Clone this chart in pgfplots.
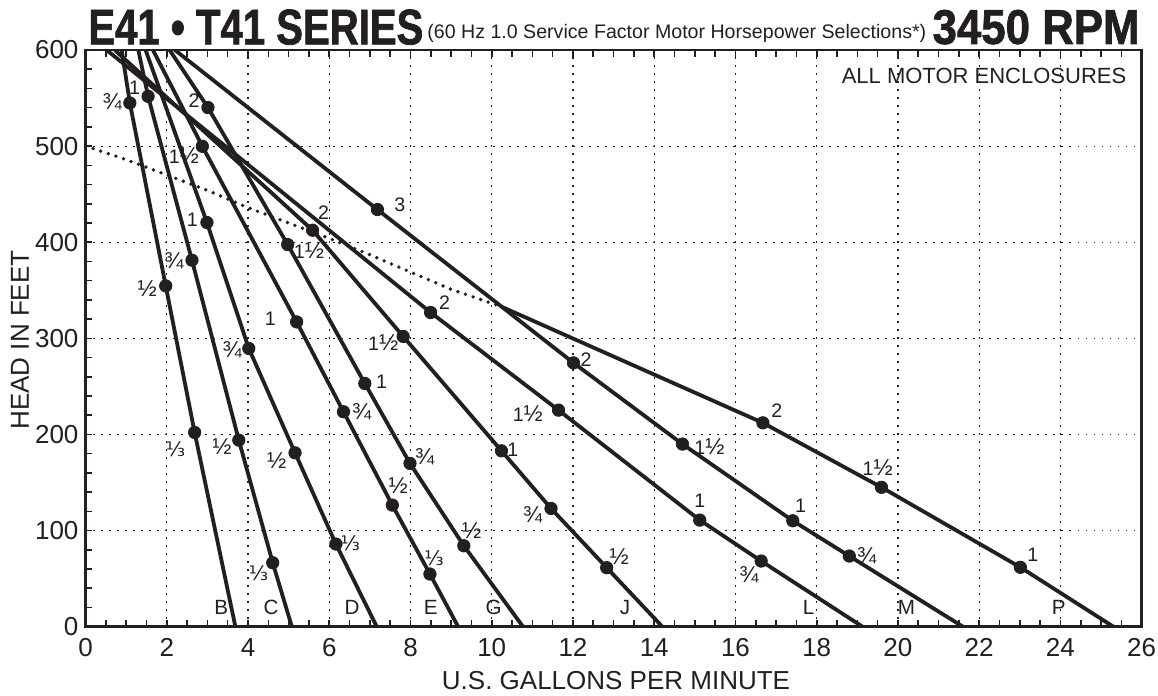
\documentclass[border=0pt]{standalone}
\usepackage{fontspec}
\setmainfont{Liberation Sans}
\newfontfamily\dejavu{DejaVu Sans}
\newfontfamily\heavy[FakeBold=1.6]{Liberation Sans Bold}
\usepackage{graphicx}
\usepackage{pgfplots}
\pgfplotsset{compat=1.18}
\definecolor{ink}{HTML}{231F20}
\newcommand\lb{\fontsize{9.8}{10}\selectfont}
\newcommand\lt{\fontsize{10.3}{11}\selectfont}
\newcommand\hf{{\fontsize{11.5}{11}\selectfont ½}}
\newcommand\tq{{\fontsize{11.5}{11}\selectfont ¾}}
\newcommand\thd{{\dejavu\fontsize{10}{10}\selectfont ⅓}}
\begin{document}
\begin{tikzpicture}
\path[use as bounding box] (-42.75pt,-34.65pt) rectangle (536.25pt,313.35pt);
\begin{axis}[
  width=528.1pt, height=288.35pt, scale only axis,
  xmin=0, xmax=26, ymin=0, ymax=600,
  xtick={0,2,...,26}, ytick={0,100,...,600},
  minor x tick num=3, minor y tick num=4,
  tick align=inside, xtick pos=both, ytick pos=left,
  xticklabel pos=lower,
  major tick length=3.3pt, minor tick length=3.3pt,
  tick style={ink, line width=0.8pt},
  grid=major,
  major grid style={ink, line width=0.6pt, dash pattern=on 0.6pt off 3.4pt},
  axis line style={ink, line width=1.35pt},
  ticklabel style={font=\fontsize{13}{15}\selectfont, text=ink},
  /pgf/number format/assume math mode=true,
  xticklabel style={yshift=-2.5pt},
  curve/.style={ink, line width=1.9pt, line join=round},
  dots/.style={only marks, mark=*, mark size=3.1pt, mark options={fill=ink, draw=ink}},
]
% B
\addplot[curve] coordinates {(0.89,600)(1.092,544.9)(1.975,354.6)(2.687,202.1)(3.69,0)};
% C
\addplot[curve] coordinates {(1.30,600)(1.541,551.8)(2.621,381.3)(3.774,194.1)(4.609,66.5)(5.08,0)};
% D
\addplot[curve] coordinates {(1.48,600)(2.989,420.5)(4.02,289.5)(5.158,180.9)(6.164,86)(7.17,0)};
% E
\addplot[curve] coordinates {(1.66,600)(2.876,499.8)(5.198,317.1)(6.351,223.6)(7.553,126.5)(8.479,54.8)(9.173,0)};
% G
\addplot[curve] coordinates {(2.07,600)(3.014,540.1)(4.977,397.6)(6.876,253.1)(7.988,169.9)(9.313,84.2)(10.77,0)};
% J
\addplot[curve] coordinates {(0.72,600)(5.59,412.5)(7.82,302)(10.24,183)(11.46,123)(12.83,61.4)(14.2,0)};
% L
\addplot[curve] coordinates {(0.52,600)(8.496,326.9)(11.644,225.3)(15.121,110.9)(16.633,68.3)(19.129,0)};
% M
\addplot[curve] coordinates {(2.2,600)(7.186,434.0)(12.012,274.5)(14.695,190)(17.411,110.2)(18.802,73.5)(21.6,0)};
% P solid
\addplot[curve] coordinates {(10.25,332.7)(16.675,212.1)(19.595,145)(23.013,61.8)(25.305,0)};
% P dotted
\addplot[ink, line width=1.9pt, line cap=round, dash pattern=on 0pt off 4pt] coordinates {(0,500)(1,486)(2,470)(3,454)(4,436)(5,420)(6,404)(7,387)(8,369)(9,351)(10.1,335)};
% dots
\addplot[dots] coordinates {(1.092,544.9)(1.975,354.6)(2.687,202.1)};
\addplot[dots] coordinates {(1.541,551.8)(2.621,381.3)(3.774,194.1)(4.609,66.5)};
\addplot[dots] coordinates {(2.989,420.5)(4.02,289.5)(5.158,180.9)(6.164,86)};
\addplot[dots] coordinates {(2.876,499.8)(5.198,317.1)(6.351,223.6)(7.553,126.5)(8.479,54.8)};
\addplot[dots] coordinates {(3.014,540.1)(4.977,397.6)(6.876,253.1)(7.988,169.9)(9.313,84.2)};
\addplot[dots] coordinates {(5.59,412.5)(7.82,302)(10.24,183)(11.46,123)(12.83,61.4)};
\addplot[dots] coordinates {(8.496,326.9)(11.644,225.3)(15.121,110.9)(16.633,68.3)};
\addplot[dots] coordinates {(7.186,434.0)(12.012,274.5)(14.695,190)(17.411,110.2)(18.802,73.5)};
\addplot[dots] coordinates {(16.675,212.1)(19.595,145)(23.013,61.8)};
% labels
\begin{scope}[every node/.style={text=ink, inner sep=0pt, font=\lb}]
\node at (axis cs:0.66,545.9) {\tq};
\node at (axis cs:1.52,351.9) {\hf};
\node at (axis cs:2.22,184.5) {\thd};
\node at (axis cs:1.21,561) {1};
\node at (axis cs:2.18,380.3) {\tq};
\node at (axis cs:3.36,187.2) {\hf};
\node at (axis cs:4.26,55.5) {\thd};
\node at (axis cs:2.63,423.6) {1};
\node at (axis cs:3.61,287.7) {\tq};
\node at (axis cs:4.71,173.3) {\hf};
\node at (axis cs:6.52,86.7) {\thd};
\node at (axis cs:2.42,490.5) {1\hf};
\node at (axis cs:4.55,320.7) {1};
\node at (axis cs:6.80,223.6) {\tq};
\node at (axis cs:7.70,146.3) {\hf};
\node at (axis cs:8.58,71.1) {\thd};
\node at (axis cs:2.67,547) {2};
\node at (axis cs:5.50,391.7) {1\hf};
\node at (axis cs:7.29,254.8) {1};
\node at (axis cs:8.35,176.8) {\tq};
\node at (axis cs:9.51,100.5) {\hf};
\node at (axis cs:5.86,430.5) {2};
\node at (axis cs:7.33,295.3) {1\hf};
\node at (axis cs:10.52,183.7) {1};
\node at (axis cs:11.01,116.1) {\tq};
\node at (axis cs:13.14,72.8) {\hf};
\node at (axis cs:8.84,337) {2};
\node at (axis cs:10.89,221.9) {1\hf};
\node at (axis cs:15.12,131) {1};
\node at (axis cs:16.33,53.8) {\tq};
\node at (axis cs:7.74,439) {3};
\node at (axis cs:12.32,278) {2};
\node at (axis cs:15.36,187.9) {1\hf};
\node at (axis cs:17.6,126) {1};
\node at (axis cs:19.23,73.5) {\tq};
\node at (axis cs:17.02,224.5) {2};
\node at (axis cs:19.5,165.5) {1\hf};
\node at (axis cs:23.32,74.5) {1};
\end{scope}
\begin{scope}[every node/.style={text=ink, inner sep=0pt, font=\lt}]
\node at (axis cs:3.34,20.2) {B};
\node at (axis cs:4.57,20.2) {C};
\node at (axis cs:6.56,20.2) {D};
\node at (axis cs:8.50,20.2) {E};
\node at (axis cs:10.05,20.2) {G};
\node at (axis cs:13.28,20.2) {J};
\node at (axis cs:17.80,20.2) {L};
\node at (axis cs:20.21,20.2) {M};
\node at (axis cs:23.96,20.2) {P};
\end{scope}
\node[anchor=east, inner sep=0pt, text=ink, font=\fontsize{11}{12}\selectfont] at (axis cs:25.63,572.6) {ALL MOTOR ENCLOSURES};
\end{axis}
\node[anchor=base west, inner sep=0pt, text=ink] at (1.25pt,291.2pt) {\resizebox{167.5pt}{17.4pt}{\fontsize{24}{24}\heavy E41 • T41 SERIES}};
\node[anchor=base west, inner sep=0pt, text=ink] at (170.75pt,294.2pt) {\fontsize{9.8}{10}\selectfont (60 Hz 1.0 Service Factor Motor Horsepower Selections*)};
\node[anchor=base east, inner sep=0pt, text=ink] at (527.25pt,291.4pt) {\resizebox{103.5pt}{17pt}{\fontsize{24}{24}\heavy 3450 RPM}};
\node[rotate=90, text=ink, inner sep=0pt, font=\fontsize{13}{15}\selectfont] at (-32.75pt,143.35pt) {HEAD IN FEET};
\node[text=ink, inner sep=0pt, font=\fontsize{13}{15}\selectfont] at (265.25pt,-27.15pt) {U.S. GALLONS PER MINUTE};
\end{tikzpicture}
\end{document}
